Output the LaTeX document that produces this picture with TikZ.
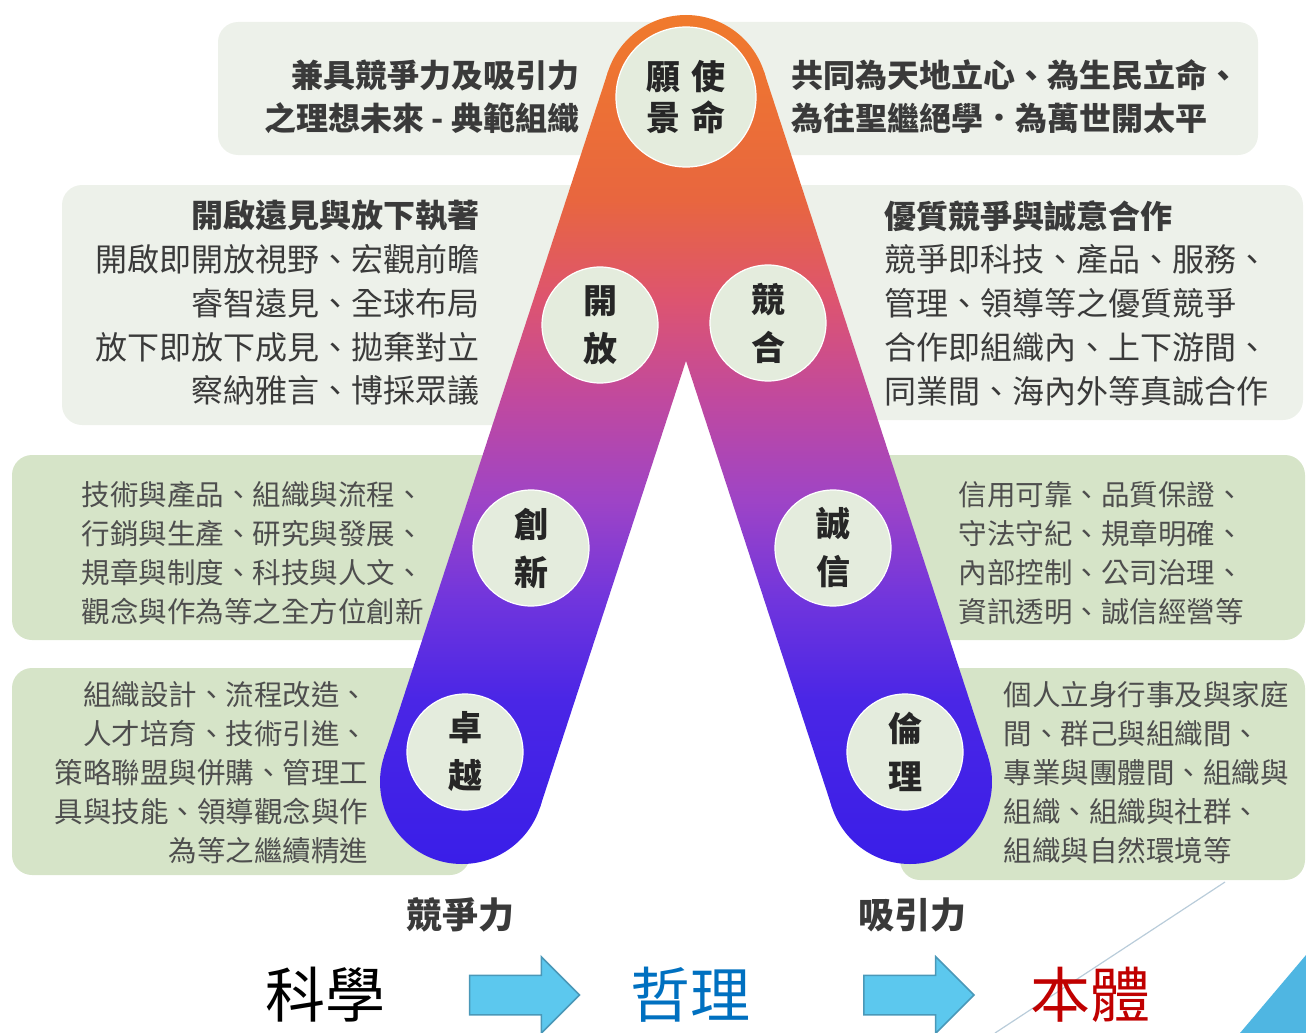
\documentclass[tikz,border=0pt]{standalone}
\usepackage{fontspec}
\setmainfont{Noto Sans CJK TC}
\usetikzlibrary{calc,shapes.arrows}

\definecolor{boxgray}{HTML}{EDF1EA}
\definecolor{boxgreen}{HTML}{D6E4C8}
\definecolor{circfill}{HTML}{E4ECDD}
\definecolor{txtgray}{HTML}{3A3A3A}
\definecolor{arrowblue}{HTML}{5CC8EE}
\definecolor{arrowedge}{HTML}{4A98B8}
\definecolor{philblue}{HTML}{0070C0}
\definecolor{ontored}{HTML}{C00000}
\definecolor{cornerblue}{HTML}{4FB6E2}
\definecolor{slideline}{HTML}{B9CCDA}
% colours of the arm, bottom to top
\definecolor{armA}{HTML}{3A1EE8}
\definecolor{armB}{HTML}{4A26E6}
\definecolor{armC}{HTML}{7035DD}
\definecolor{armD}{HTML}{9E44C6}
\definecolor{armE}{HTML}{C0499F}
\definecolor{armF}{HTML}{DD5470}
\definecolor{armG}{HTML}{E8663F}
\definecolor{armH}{HTML}{F07A2C}
\pgfdeclareverticalshading{armshade}{100bp}{color(0bp)=(armA); color(25bp)=(armA);
  color(34.7bp)=(armB); color(40.5bp)=(armC); color(46.4bp)=(armD); color(52.3bp)=(armE);
  color(58.2bp)=(armF); color(64.1bp)=(armG); color(75bp)=(armH); color(100bp)=(armH)}

\begin{document}
\begin{tikzpicture}[x=1pt,y=-1pt,
    circ/.style={circle, fill=circfill, draw=white, line width=1.2pt, inner sep=0pt,
      minimum size=116pt, align=center, text=black!85,
      font=\bfseries\fontsize{34}{48}\selectfont},
    bigtxt/.style={text=txtgray, font=\fontsize{32}{43.75}\selectfont},
    smalltxt/.style={text=txtgray!90, font=\fontsize{28.5}{39}\selectfont},
    barrow/.style={single arrow, fill=arrowblue, draw=arrowedge, line width=1.5pt,
      inner sep=0pt, inner ysep=19pt, single arrow head extend=18.5pt, minimum height=110pt},
    bigword/.style={font=\fontsize{60}{60}\selectfont}]
  \useasboundingbox (0,0) rectangle (1306,1033);

  % background boxes
  \fill[boxgray, rounded corners=20] (218,22) rectangle (1258,155);
  \fill[boxgray, rounded corners=20] (62,185) rectangle (640,425);
  \fill[boxgray, rounded corners=20] (730,185) rectangle (1303,420);
  \fill[boxgreen, rounded corners=20] (12,455) rectangle (560,640);
  \fill[boxgreen, rounded corners=20] (810,455) rectangle (1305,640);
  \fill[boxgreen, rounded corners=20] (12,668) rectangle (470,875);
  \fill[boxgreen, rounded corners=20] (900,668) rectangle (1305,880);

  % the two arms
  \coordinate (top) at (686,97);
  \coordinate (lbot) at (462,782);
  \coordinate (rbot) at (910,782);
  \foreach \a/\b in {top/lbot, top/rbot}{
    \begin{scope}
      \clip ($(\a)!82pt!90:(\b)$) -- ($(\b)!82pt!-90:(\a)$) -- ($(\b)!82pt!90:(\a)$) -- ($(\a)!82pt!-90:(\b)$) -- cycle;
      \shade[shading=armshade] (0,15) rectangle (1306,864);
    \end{scope}
  }
  \foreach \c in {top,lbot,rbot}{
    \begin{scope}
      \clip (\c) circle (82);
      \shade[shading=armshade] (0,15) rectangle (1306,864);
    \end{scope}
  }

  % circles
  \node[circ, minimum size=140pt, font=\bfseries\fontsize{34}{41}\selectfont] (vision) at (top) {願\hspace{12pt}使\\景\hspace{12pt}命};
  \node[circ] (open) at (600,325) {開\\放};
  \node[circ] (coop) at (768,323) {競\\合};
  \node[circ] (innov) at (531,548) {創\\新};
  \node[circ] (integ) at (833,548) {誠\\信};
  \node[circ] (excel) at (465,752) {卓\\越};
  \node[circ] (ethic) at (905,752) {倫\\理};

  % texts
  \node[bigtxt, font=\bfseries\fontsize{32}{43}\selectfont, anchor=east, align=right] (visl) at (583,97)
    {兼具競爭力及吸引力\\之理想未來 - 典範組織};
  \node[bigtxt, font=\bfseries\fontsize{32}{43}\selectfont, anchor=west, align=left] (visr) at (788,97)
    {共同為天地立心、為生民立命、\\為往聖繼絕學．為萬世開太平};
  \node[bigtxt, anchor=east, align=right] (opentxt) at (483,303)
    {\textbf{開啟遠見與放下執著}\\開啟即開放視野、宏觀前瞻\\睿智遠見、全球布局\\放下即放下成見、拋棄對立\\察納雅言、博採眾議};
  \node[bigtxt, anchor=west, align=left] (cooptxt) at (881,303)
    {\textbf{優質競爭與誠意合作}\\競爭即科技、產品、服務、\\管理、領導等之優質競爭\\合作即組織內、上下游間、\\同業間、海內外等真誠合作};
  \node[smalltxt, anchor=west, align=left] (innovtxt) at (78,553)
    {技術與產品、組織與流程、\\行銷與生產、研究與發展、\\規章與制度、科技與人文、\\觀念與作為等之全方位創新};
  \node[smalltxt, anchor=west, align=left] (integtxt) at (955,553)
    {信用可靠、品質保證、\\守法守紀、規章明確、\\內部控制、公司治理、\\資訊透明、誠信經營等};
  \node[smalltxt, anchor=east, align=right] (exceltxt) at (372,773)
    {組織設計、流程改造、\\人才培育、技術引進、\\策略聯盟與併購、管理工\\具與技能、領導觀念與作\\為等之繼續精進};
  \node[smalltxt, anchor=west, align=left] (ethictxt) at (1000,773)
    {個人立身行事及與家庭\\間、群己與組織間、\\專業與團體間、組織與\\組織、組織與社群、\\組織與自然環境等};

  \node[text=txtgray, font=\bfseries\fontsize{36}{36}\selectfont] (compet) at (460,915) {競爭力};
  \node[text=txtgray, font=\bfseries\fontsize{36}{36}\selectfont] (attract) at (912,915) {吸引力};

  % slide decoration
  \draw[slideline, line width=1.2pt] (995,1033) -- (1225,882);
  \fill[cornerblue] (1240,1033) -- (1306,1033) -- (1306,955) -- cycle;

  % bottom row
  \node[bigword] (sci) at (325,995) {科學};
  \node[bigword, text=philblue] (phil) at (690,995) {哲理};
  \node[bigword, text=ontored] (onto) at (1090,995) {本體};
  \path (sci) -- node[barrow, pos=0.53] (arr1) {} (phil);
  \path (phil) -- node[barrow, pos=0.57] (arr2) {} (onto);
\end{tikzpicture}
\end{document}
